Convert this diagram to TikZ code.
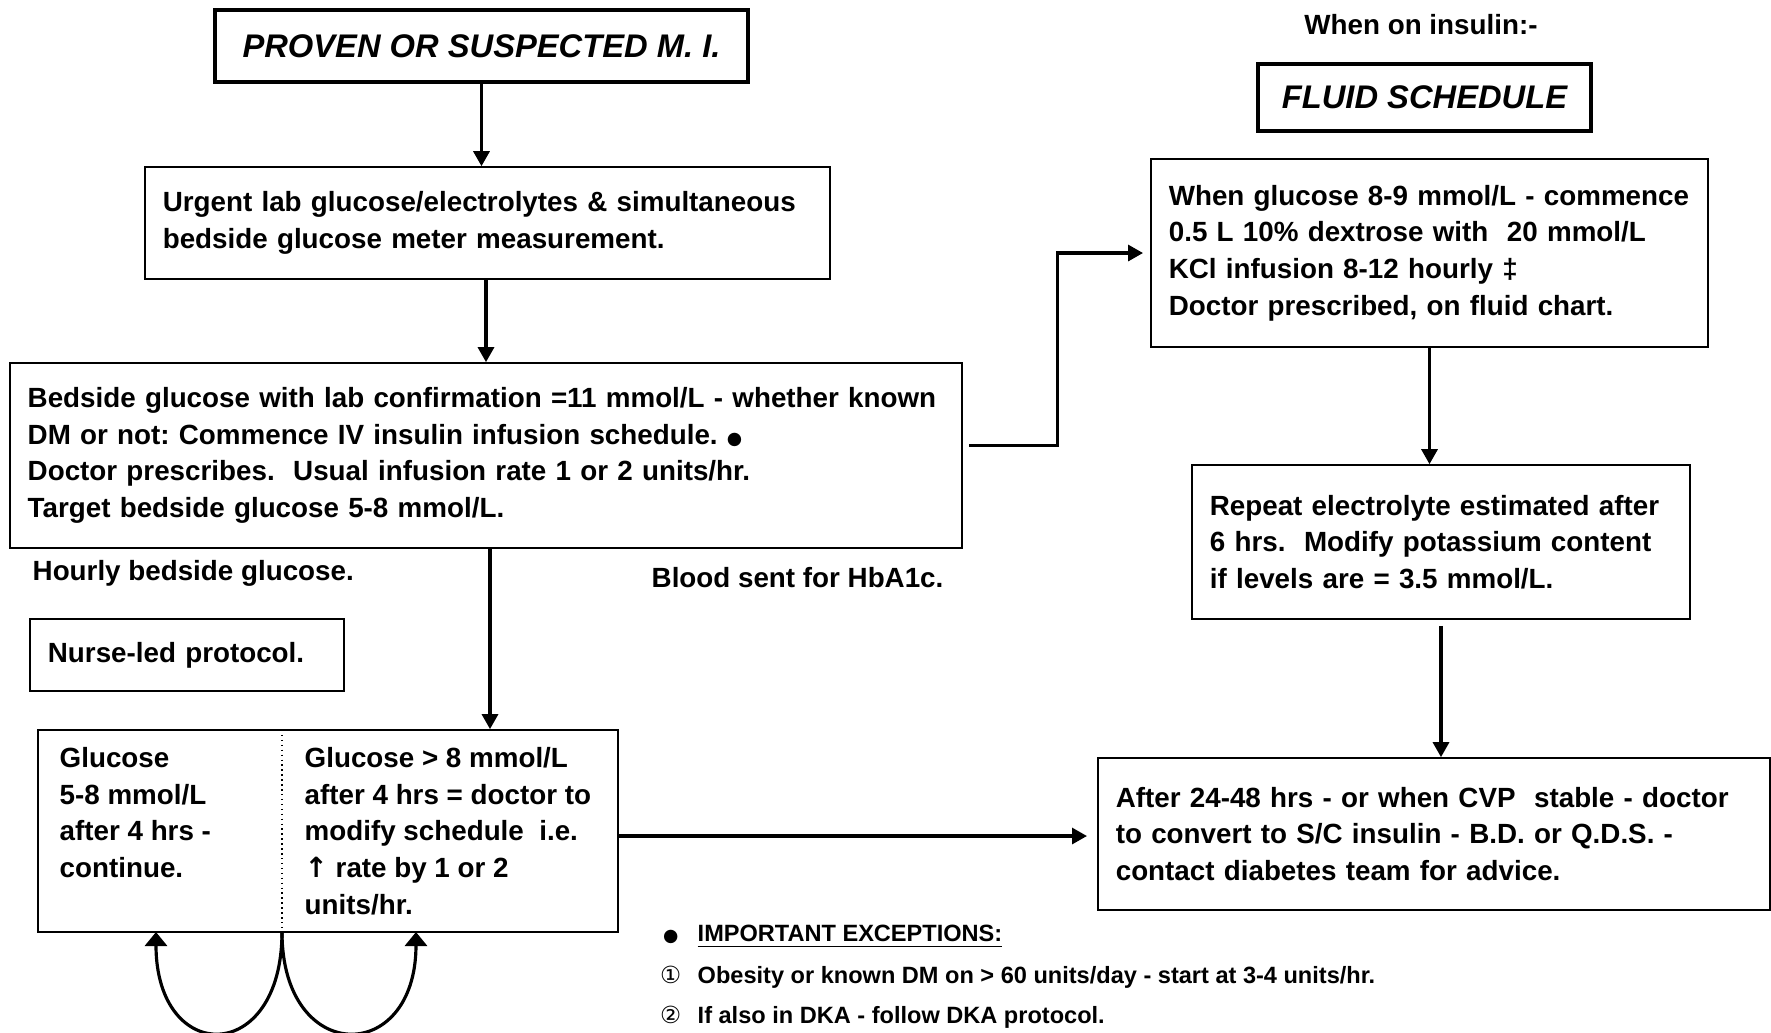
\documentclass[tikz,border=0pt]{standalone}
\usepackage{fontspec}
\setmainfont{Liberation Sans}
\newfontfamily\symfont{DejaVu Sans}
\frenchspacing
\usetikzlibrary{positioning, arrows.meta}

\begin{document}
\begin{tikzpicture}[x=0.01cm, y=-0.01cm,
    box/.style={draw, line width=0.45pt, rectangle, align=left, inner xsep=0.18cm,
        font=\fontsize{7.9}{10.4}\selectfont\bfseries},
    titlebox/.style={draw, line width=1.1pt, font=\fontsize{9.3}{11}\selectfont\bfseries\itshape},
    txt/.style={font=\fontsize{7.9}{10.4}\selectfont\bfseries, inner sep=0pt},
    note/.style={font=\fontsize{6.7}{8}\selectfont\bfseries, inner sep=0pt, anchor=west},
    arr/.style={-{Triangle[length=0.15cm, width=0.16cm]}, line width=0.9pt}]
    \useasboundingbox (0,0) rectangle (1771,1032);

    % Left column: M.I. pathway
    \node[titlebox, minimum width=5.33cm, minimum height=0.72cm] (mi) at (481.5,46) {PROVEN OR SUSPECTED M. I.};
    \node[box, text width=6.49cm, minimum height=1.12cm] (urg) at (487.5,223)
        {Urgent lab glucose/electrolytes \& simultaneous\\bedside glucose meter measurement.};
    \node[box, text width=9.16cm, minimum height=1.85cm] (bed) at (486,455.5)
        {Bedside glucose with lab confirmation =11 mmol/L - whether known\\
         DM or not: Commence IV insulin infusion schedule. {\symfont\fontsize{5}{6}\selectfont ●}\\
         Doctor prescribes.\ \ Usual infusion rate 1 or 2 units/hr.\\
         Target bedside glucose 5-8 mmol/L.};

    \draw[arr] (mi.south) -- (mi.south |- urg.north);
    \draw[arr] (bed.north |- urg.south) -- (bed.north);

    \node[txt, anchor=west] (hourly) at (32,573) {Hourly bedside glucose.};
    \node[txt, anchor=west] (hba) at (651,578) {Blood sent for HbA1c.};
    \node[box, text width=2.78cm, minimum height=0.72cm] (nurse) at (187,655) {Nurse-led protocol.};

    % Split box after 4 hrs
    \node[draw, line width=0.45pt, minimum width=5.8cm, minimum height=2.02cm] (glu) at (328,831) {};
    \node[txt, anchor=north west, align=left] (low) at (59,747)
        {Glucose\\5-8 mmol/L\\after 4 hrs -\\continue.};
    \node[txt, anchor=north west, align=left] (high) at (304,747)
        {Glucose > 8 mmol/L\\after 4 hrs = doctor to\\modify schedule\ \ i.e.\\{\symfont ↑} rate by 1 or 2\\units/hr.};
    \coordinate (divtop) at (282,730);
    \coordinate (div) at (282,932);
    \draw[densely dotted, line width=0.4pt] (divtop) -- (div);
    \draw[arr] ([xshift=0.04cm]bed.south) -- ([xshift=0.04cm]bed.south |- glu.north);

    % Loop arrows under the split box
    \coordinate (lowtip) at (156,932);
    \coordinate (hightip) at (416,932);
    \draw[arr, -{Triangle[length=0.14cm, width=0.22cm]}] (div) .. controls (282,1066) and (156,1066) .. (lowtip);
    \draw[arr, -{Triangle[length=0.14cm, width=0.22cm]}] (div) .. controls (282,1066) and (416,1066) .. (hightip);

    % Right column: fluid schedule
    \node[txt] (insulin) at (1421,25) {When on insulin:-};
    \node[titlebox, minimum width=3.33cm, minimum height=0.67cm] (fluid) at (1424.5,97.5) {FLUID SCHEDULE};
    \node[box, text width=5.21cm, minimum height=1.88cm] (gluc) at (1429.5,253)
        {When glucose 8-9 mmol/L - commence\\
         0.5 L 10\% dextrose with\ \ 20 mmol/L\\
         KCl infusion 8-12 hourly ‡\\
         Doctor prescribed, on fluid chart.};
    \node[box, text width=4.62cm, minimum height=1.54cm] (rep) at (1441,542)
        {Repeat electrolyte estimated after\\
         6 hrs.\ \ Modify potassium content\\
         if levels are = 3.5 mmol/L.};
    \node[box, text width=6.36cm, minimum height=1.52cm] (after) at (1434,834)
        {After 24-48 hrs - or when CVP\ \ stable - doctor\\
         to convert to S/C insulin - B.D. or Q.D.S. -\\
         contact diabetes team for advice.};

    \draw[arr] ([yshift=0.1cm, xshift=0.06cm]bed.east) -- ++(0.88cm,0) |- ([xshift=-0.07cm]gluc.west);
    \draw[arr] (gluc) -- (gluc.south |- rep.north);
    \draw[arr] ([yshift=-0.06cm]rep.south) -- (rep.south |- after.north);
    \draw[arr, shorten >=0.1cm] ([yshift=-0.05cm]glu.east) -- ([yshift=-0.05cm]glu.east -| after.west);

    % Exceptions
    \node[note] (exc) at (660,937) {\makebox[0.2cm]{\symfont\fontsize{5}{6}\selectfont ●}\hspace{0.17cm}\underline{IMPORTANT EXCEPTIONS:}};
    \node[note] (exc1) at (660,977) {\makebox[0.2cm]{\symfont\mdseries ①}\hspace{0.17cm}Obesity or known DM on > 60 units/day - start at 3-4 units/hr.};
    \node[note] (exc2) at (660,1017) {\makebox[0.2cm]{\symfont\mdseries ②}\hspace{0.17cm}If also in DKA - follow DKA protocol.};
\end{tikzpicture}
\end{document}
